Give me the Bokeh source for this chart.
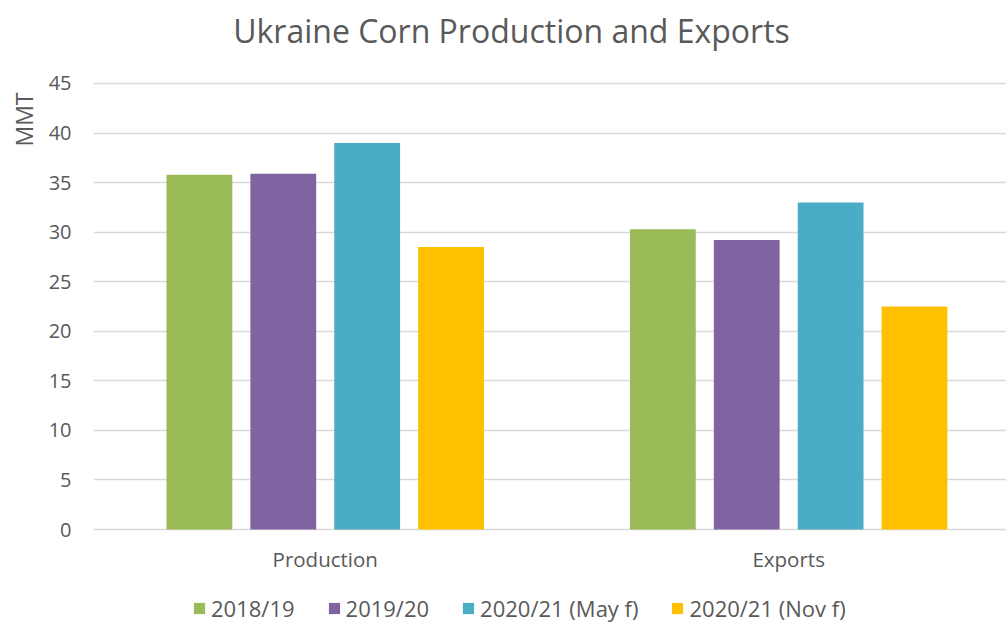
from bokeh.plotting import figure
from bokeh.models import Range1d, FixedTicker, Legend, LegendItem, Label, Title, ColumnDataSource
from bokeh.core.properties import value
from bokeh.embed import file_html
from bokeh.resources import INLINE

categories = ["Production", "Exports"]
series = ["2018/19", "2019/20", "2020/21 (May f)", "2020/21 (Nov f)"]
values_2018_19 = [35.8, 30.3]
values_2019_20 = [35.9, 29.2]
values_2020_21_may = [39.0, 33.0]
values_2020_21_nov = [28.5, 22.5]
colors = ["#9BBB59", "#8064A2", "#4BACC6", "#FFC000"]
y_ticks = [0, 5, 10, 15, 20, 25, 30, 35, 40, 45]

all_values = [values_2018_19, values_2019_20, values_2020_21_may, values_2020_21_nov]

FONT = "Open Sans"
GREY = "#595959"

# plot frame fills the canvas except the y-axis column; value 0 sits 93px above the bottom
p = figure(width=1006, height=622, output_backend="svg", toolbar_location=None,
           x_range=Range1d(0, 1.97), y_range=Range1d(-9.383, 53.374),
           min_border_left=92, min_border_right=0, min_border_top=0,
           min_border_bottom=0)
p.outline_line_color = None
p.background_fill_color = "white"
p.border_fill_color = "white"

# title
p.add_layout(Label(x=418, y=592, x_units="screen", y_units="screen",
                   text="Ukraine Corn Production and Exports",
                   text_align="center", text_baseline="middle",
                   text_font=FONT, text_font_size="32px", text_color=GREY))

# y-axis title near the top
p.add_layout(Title(text="MMT", align="right", offset=92, text_font=FONT,
                   text_font_size="23px", text_font_style="normal",
                   text_color=GREY, standoff=11), "left")

centers = [i + 0.5 for i in range(len(categories))]
offset_step = 0.181
bar_w = 0.142
items = []
for j, (name, vals, col) in enumerate(zip(series, all_values, colors)):
    xs = [c + (j - 1.5) * offset_step for c in centers]
    r = p.vbar(x=xs, top=vals, width=bar_w, bottom=0, fill_color=col, line_color=None)
    items.append(LegendItem(label=name, renderers=[r]))

# category labels under the zero line
cat_src = ColumnDataSource(dict(x=centers, y=[-3.0] * len(categories), text=categories))
p.text(x="x", y="y", text="text", source=cat_src, text_align="center",
       text_baseline="middle", text_font=value(FONT), text_font_size="20.5px",
       text_color=GREY)

p.xaxis.visible = False

p.yaxis.ticker = FixedTicker(ticks=y_ticks)
p.yaxis.major_tick_line_color = None
p.yaxis.major_tick_out = 0
p.yaxis.major_tick_in = 0
p.yaxis.minor_tick_line_color = None
p.yaxis.axis_line_color = None
p.yaxis.major_label_text_font = FONT
p.yaxis.major_label_text_font_size = "20px"
p.yaxis.major_label_text_color = GREY
p.yaxis.major_label_standoff = 22

p.xgrid.grid_line_color = None
p.ygrid.grid_line_color = "#D9D9D9"
p.ygrid.grid_line_width = 1.5
p.ygrid.ticker = FixedTicker(ticks=y_ticks)

legend = Legend(items=items, orientation="horizontal", location=(99, -1),
                label_text_font=FONT, label_text_font_size="22px", label_text_color=GREY,
                glyph_width=14, glyph_height=14, spacing=32, label_standoff=5,
                border_line_color=None, background_fill_alpha=0, padding=2, margin=0)
p.add_layout(legend)

open("out.html", "w").write(file_html(p, INLINE))
